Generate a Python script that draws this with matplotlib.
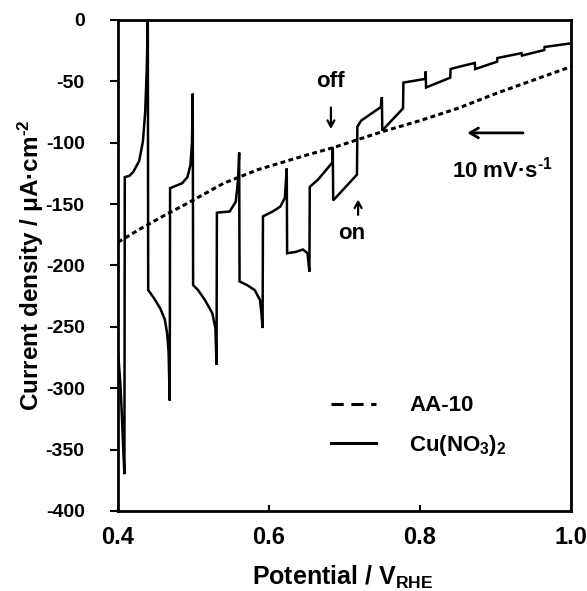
import matplotlib
matplotlib.use("Agg")
import matplotlib.pyplot as plt
from matplotlib.lines import Line2D

plt.rcParams["font.family"] = ["Liberation Sans", "DejaVu Sans"]
plt.rcParams["font.weight"] = "bold"
plt.rcParams["axes.unicode_minus"] = False
plt.rcParams["mathtext.fontset"] = "custom"
plt.rcParams["mathtext.rm"] = "Liberation Sans:bold"
plt.rcParams["mathtext.bf"] = "Liberation Sans:bold"
plt.rcParams["mathtext.it"] = "Liberation Sans:bold"

# Dark reference scan (AA-10)
aa_potential = [0.40, 0.43, 0.465, 0.49, 0.54, 0.585, 0.65, 0.685, 0.75, 0.80, 0.85, 0.90, 0.95, 1.00]
aa_current = [-181, -170, -158, -150, -133, -122, -110, -104, -91, -82, -72, -60, -49, -38]

# Chopped-light scan (Cu(NO3)2)
cu_potential = [
    0.400, 0.403, 0.405, 0.407, 0.4085, 0.409, 0.415, 0.420, 0.428, 0.433, 0.436, 0.438, 0.4395,
    0.4400, 0.447, 0.456, 0.462, 0.465, 0.467, 0.4685,
    0.4690, 0.485, 0.492, 0.496, 0.498, 0.4990,
    0.4995, 0.506, 0.515, 0.525, 0.529, 0.5305,
    0.5310, 0.548, 0.556, 0.559, 0.5605,
    0.5610, 0.571, 0.581, 0.588, 0.590, 0.5915,
    0.5920, 0.605, 0.615, 0.621, 0.6235,
    0.6240, 0.635, 0.645, 0.651, 0.6535,
    0.6540, 0.665, 0.684, 0.6845,
    0.6850, 0.7165,
    0.7170, 0.722, 0.748, 0.7495,
    0.7500, 0.7775,
    0.7780, 0.807, 0.8075,
    0.8080, 0.840, 0.8405,
    0.846, 0.8725,
    0.8730, 0.902, 0.9025,
    0.9345, 0.9350,
    0.9645, 0.9650, 1.000,
]
cu_current = [
    -270, -295, -320, -350, -370, -128, -127, -124, -115, -99, -75, -42, 0,
    -220, -226, -235, -244, -255, -270, -310,
    -137, -133, -128, -118, -100, -60,
    -216, -220, -228, -239, -251, -281,
    -157, -156, -148, -130, -108,
    -213, -216, -220, -228, -239, -251,
    -160, -156, -152, -145, -121,
    -190, -189, -187, -190, -205,
    -136, -130, -116, -104,
    -147, -126,
    -87, -82, -71, -63,
    -90, -72,
    -51, -48, -42,
    -55, -47, -40,
    -39, -35,
    -40, -34, -31,
    -27, -29,
    -24.5, -22, -19,
]

x_ticks = [0.4, 0.6, 0.8, 1.0]
x_tick_labels = ["0.4", "0.6", "0.8", "1.0"]
y_ticks = [0, -50, -100, -150, -200, -250, -300, -350, -400]
y_tick_labels = ["0", "-50", "-100", "-150", "-200", "-250", "-300", "-350", "-400"]

fig = plt.figure(figsize=(5.87, 5.91), dpi=100)
ax = fig.add_axes([0.201, 0.1354, 0.7718, 0.8308])

ax.plot(aa_potential, aa_current, color="black", lw=2.2,
        linestyle=(0, (1.6, 1.1)), dash_capstyle="butt")
ax.plot(cu_potential, cu_current, color="black", lw=1.8, solid_joinstyle="miter")

ax.set_xlim(0.4, 1.0)
ax.set_ylim(-400, 0)
ax.set_xticks(x_ticks)
ax.set_xticklabels(x_tick_labels, fontsize=17, fontweight="bold")
ax.set_yticks(y_ticks)
ax.set_yticklabels(y_tick_labels, fontsize=14, fontweight="bold")
ax.tick_params(axis="y", direction="out", length=6, width=1.5, pad=18)
ax.tick_params(axis="x", direction="in", length=4.5, width=1.5, pad=11)
for sp in ax.spines.values():
    sp.set_linewidth(2.0)

ax.set_xlabel(r"Potential / V$_{\mathbf{RHE}}$", fontsize=18, fontweight="bold")
ax.xaxis.set_label_coords(0.497, -0.108)
ax.set_ylabel(r"Current density / μA·cm$^{\text{-}\mathbf{2}}$", fontsize=17.5, fontweight="bold")
ax.yaxis.set_label_coords(-0.192, 0.5)
ax.yaxis.label.set_va("center")

arrow_kw = dict(arrowstyle="->,head_length=0.45,head_width=0.25", color="black", lw=1.6)
ax.annotate("", xy=(0.682, -91), xytext=(0.682, -69), arrowprops=arrow_kw)
ax.text(0.682, -50, "off", ha="center", va="center", fontsize=16, fontweight="bold")
ax.annotate("", xy=(0.718, -144), xytext=(0.718, -161), arrowprops=arrow_kw)
ax.text(0.709, -174, "on", ha="center", va="center", fontsize=16, fontweight="bold")

ax.annotate("", xy=(0.859, -92), xytext=(0.940, -92),
            arrowprops=dict(arrowstyle="->,head_length=0.6,head_width=0.35", color="black", lw=2.0))
ax.text(0.909, -122, r"10 mV·s$^{\text{-}\mathbf{1}}$", ha="center", va="center", fontsize=16, fontweight="bold")

handles = [
    Line2D([], [], color="black", lw=2.2, linestyle=(0, (4, 2.5)), dash_capstyle="butt"),
    Line2D([], [], color="black", lw=2.2),
]
ax.legend(handles, ["AA-10", r"Cu(NO$_{\mathbf{3}}$)$_{\mathbf{2}}$"],
          loc="upper left", bbox_to_anchor=(0.471, 0.2355), frameon=False,
          fontsize=16, handlelength=2.0, handletextpad=1.5, labelspacing=0.75,
          borderpad=0, borderaxespad=0)

fig.savefig("out.png", dpi=100)
